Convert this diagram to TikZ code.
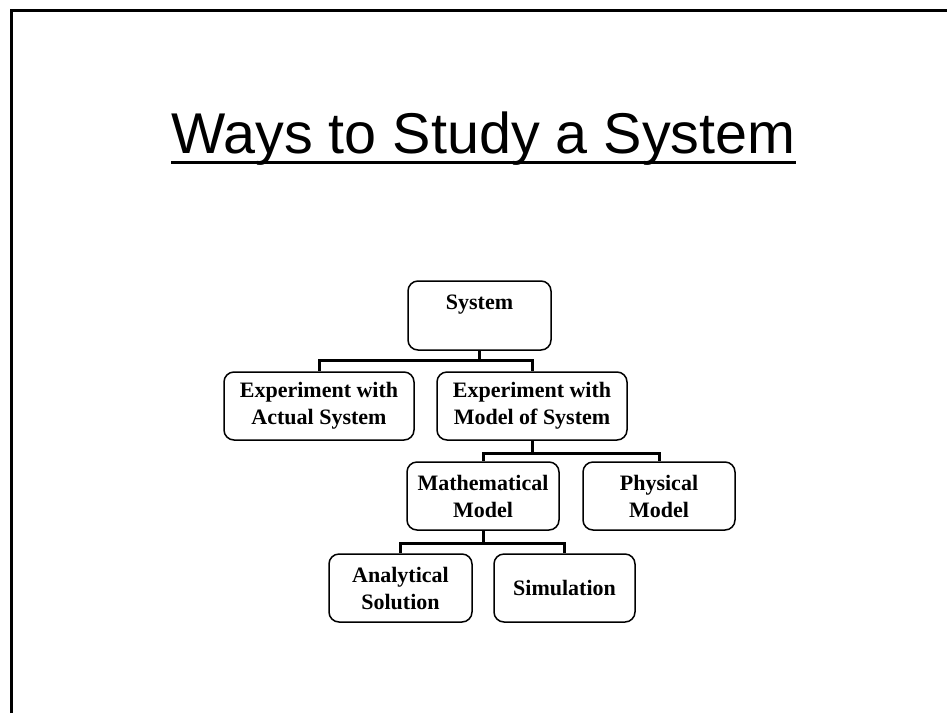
\documentclass[tikz,border=0pt]{standalone}
\usepackage{fontspec}
\setmainfont{Liberation Serif}
\newfontfamily\titlefont{Liberation Sans}
\begin{document}
\begin{tikzpicture}[x=1pt,y=-1pt,
  box/.style={draw=black, line width=1.5pt, rounded corners=10pt, align=center,
    inner sep=0pt, font=\bfseries\fontsize{22}{27}\selectfont},
  conn/.style={draw=black, line width=3pt}
]
\useasboundingbox (0,0) rectangle (947,713);
% frame
\draw[line width=3pt] (11,713) -- (11,10) -- (947,10);
% title
\node[anchor=base, inner sep=0pt, font=\titlefont\fontsize{57.5}{60}\selectfont] (title) at (483.5,153) {Ways to Study a System};
\draw[line width=3pt] ([yshift=-9pt]title.base west) -- ([yshift=-9pt]title.base east);
% boxes
\node[box, minimum width=143pt, minimum height=69pt] (sys) at (479.5,315.5) {System\\\mbox{}};
\node[box, minimum width=190pt, minimum height=68pt] (act) at (319,406) {Experiment with\\Actual System};
\node[box, minimum width=190pt, minimum height=68pt] (mod) at (532,406) {Experiment with\\Model of System};
\node[box, minimum width=152pt, minimum height=68pt] (math) at (483,496) {Mathematical\\Model};
\node[box, minimum width=152pt, minimum height=68pt] (phys) at (659,496) {Physical\\Model};
\node[box, minimum width=143pt, minimum height=68pt] (ana) at (400.5,588) {Analytical\\Solution};
\node[box, minimum width=141pt, minimum height=68pt] (sim) at (564.5,588) {Simulation};
% connectors
\draw[conn] (sys.south) -- ++(0,10) -| (act.north);
\draw[conn] (sys.south) -- ++(0,10) -| (mod.north);
\draw[conn] (mod.south) -- ++(0,13) -| (math.north);
\draw[conn] (mod.south) -- ++(0,13) -| (phys.north);
\draw[conn] (math.south) -- ++(0,13) -| (ana.north);
\draw[conn] (math.south) -- ++(0,13) -| (sim.north);
\end{tikzpicture}
\end{document}
